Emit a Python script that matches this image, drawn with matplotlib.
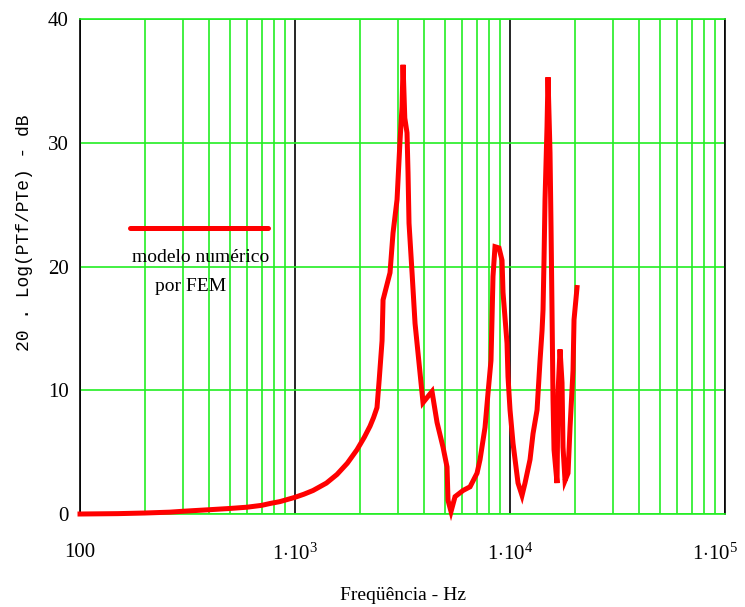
import matplotlib
matplotlib.use("Agg")
import matplotlib.pyplot as plt
import matplotlib.transforms as mtransforms
from matplotlib.lines import Line2D

plt.rcParams['mathtext.fontset'] = 'custom'
plt.rcParams['mathtext.rm'] = 'Liberation Serif'
plt.rcParams['mathtext.it'] = 'Liberation Serif'

# Frequency (Hz) and ratio (dB)
freq = [100, 150, 200, 262, 300, 402, 500, 598, 700, 765, 850, 1000, 1100, 1213,
        1400, 1568, 1750, 1943, 2100, 2233, 2320, 2406, 2462, 2540,
        2567, 2766, 2856, 2982, 3079, 3146, 3180, 3240, 3318, 3354, 3390, 3502,
        3616, 3814, 3938, 4154, 4337, 4576, 4880, 5093, 5148, 5316, 5549, 6045,
        6517, 7024, 7253, 7651, 7902, 8155, 8244, 8333, 8514, 8887, 9180, 9277,
        9683, 9786, 10000, 10328, 10895, 11371, 11743, 12390, 12794, 13355,
        13789, 14088, 14240, 14390, 14546, 14862, 15020, 15346, 15513, 15676,
        15849, 16020, 16543, 16720, 17083, 17453, 17638, 18022, 18612, 19016,
        19634, 19846, 20494]
db = [0, 0.03, 0.08, 0.15, 0.22, 0.35, 0.45, 0.55, 0.7, 0.85, 1.0, 1.35, 1.6, 1.9,
      2.5, 3.2, 4.1, 5.2, 6.2, 7.1, 7.8, 8.6, 10.8, 14,
      17.3, 19.5, 22.7, 25.4, 30.2, 32.9, 36.3, 32.0, 30.8, 27.6, 23.5, 19.5,
      15.4, 11.4, 9.0, 9.5, 9.9, 7.4, 5.4, 3.8, 1.1, 0.2, 1.4, 1.9,
      2.2, 3.3, 4.4, 7.0, 9.8, 12.4, 15.7, 19.2, 21.6, 21.5, 20.5, 17.9,
      13.8, 11.1, 8.4, 5.7, 2.5, 1.5, 2.5, 4.4, 6.5, 8.4,
      12.4, 14.8, 16.5, 20.5, 25.4, 31.3, 35.3, 29.2, 23.2, 16.5,
      9.2, 5.2, 2.5, 9.8, 13.3, 10.6, 5.4, 2.7, 3.3, 7.0,
      11.6, 15.7, 18.3]

xticks = [100, 1e3, 1e4, 1e5]
xtick_labels = ['100', r'$1{\cdot}10^{3}$', r'$1{\cdot}10^{4}$', r'$1{\cdot}10^{5}$']
yticks = [0, 10, 20, 30, 40]

green = '#22ee22'
red = '#ff0000'

fig = plt.figure(figsize=(7.45, 6.07), dpi=100)
ax = fig.add_axes([0.1074, 0.1532, 0.8658, 0.8155])

ax.plot(freq, db, color=red, lw=3.6, clip_on=False, zorder=5,
        solid_joinstyle='miter')

ax.set_xscale('log')
ax.set_xlim(100, 1e5)
ax.set_ylim(0, 40)

ax.set_xticks(xticks)
ax.set_xticklabels(xtick_labels)
ax.set_yticks(yticks)
ax.xaxis.set_minor_locator(matplotlib.ticker.LogLocator(base=10, subs=range(2, 10)))
ax.xaxis.set_minor_formatter(matplotlib.ticker.NullFormatter())

ax.tick_params(axis='x', which='both', length=0, pad=21)
ax.tick_params(axis='y', length=0, pad=8)
for lab in ax.get_xticklabels() + ax.get_yticklabels():
    lab.set_fontfamily('Liberation Serif')
    lab.set_fontsize(15)

# keep the last label inside the figure
last = ax.get_xticklabels()[-1]
last.set_transform(last.get_transform() +
                   mtransforms.ScaledTranslation(-10 / 100, 0, fig.dpi_scale_trans))

ax.grid(True, which='minor', axis='x', color=green, lw=1.2)
ax.grid(True, which='major', axis='x', color='black', lw=1.2)
ax.grid(True, which='major', axis='y', color=green, lw=1.2)
ax.set_axisbelow(True)

ax.spines['left'].set_color('black')
ax.spines['right'].set_color('black')
ax.spines['top'].set_color(green)
ax.spines['bottom'].set_color(green)
for s in ax.spines.values():
    s.set_linewidth(1.2)

ax.set_xlabel('Freqüência - Hz', fontfamily='Liberation Serif', fontsize=14, labelpad=16)
fig.text(25 / 745, 1 - 233 / 607, '20 . Log(PTf/PTe) - dB', rotation=90,
         ha='center', va='center', fontfamily='Liberation Mono', fontsize=13)

# legend drawn by hand: sample line above the label
ax.add_line(Line2D([0.0775, 0.2915], [0.578, 0.578], transform=ax.transAxes,
                   color=red, lw=3.6, solid_capstyle='round', zorder=6))
ax.text(0.1876, 0.519, 'modelo numérico', transform=ax.transAxes, ha='center',
        va='center', fontfamily='Liberation Serif', fontsize=14)
ax.text(0.171, 0.459, 'por FEM', transform=ax.transAxes, ha='center',
        va='center', fontfamily='Liberation Serif', fontsize=14)

fig.savefig('out.png', dpi=100)
